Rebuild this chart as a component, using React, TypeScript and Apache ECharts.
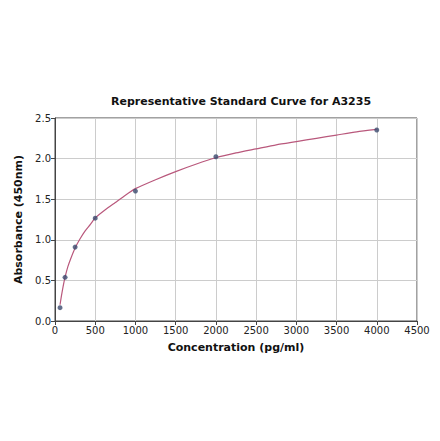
import React, { useEffect, useRef } from 'react';
import * as echarts from 'echarts';

// standard points
const concentrations = [62.5, 125, 250, 500, 1000, 2000, 4000];
const absorbances = [0.164, 0.538, 0.91, 1.266, 1.6, 2.023, 2.352];

// fitted curve
const curveX = [62.5, 80, 100, 125, 160, 200, 250, 310, 375, 440, 500, 625, 750, 875, 1000, 1250, 1500, 1750, 2000, 2250, 2500, 2750, 3000, 3250, 3500, 3750, 4000];
const curveY = [0.2, 0.31, 0.42, 0.54, 0.67, 0.78, 0.9, 1.01, 1.11, 1.19, 1.27, 1.37, 1.46, 1.55, 1.63, 1.74, 1.84, 1.93, 2.01, 2.07, 2.12, 2.17, 2.21, 2.25, 2.29, 2.33, 2.36];

const xTicks = [0, 4500, 500];
const yTicks = [0, 2.5, 0.5];

const font = 'DejaVu Sans';

const App: React.FC = () => {
    const chartRef = useRef<HTMLDivElement>(null);

    useEffect(() => {
        if (!chartRef.current) return;
        const chart = echarts.init(chartRef.current, undefined, { renderer: 'svg' });

        chart.setOption({
            animation: false,
            backgroundColor: '#fff',
            title: {
                text: 'Representative Standard Curve for A3235',
                left: 236,
                textAlign: 'center',
                top: 91,
                textStyle: { fontFamily: font, fontSize: 11, fontWeight: 'bold', color: '#111' },
            },
            grid: {
                left: 55,
                right: 23,
                top: 118,
                bottom: 120,
                show: true,
                borderColor: '#444',
                borderWidth: 1,
            },
            xAxis: {
                type: 'value',
                min: xTicks[0],
                max: xTicks[1],
                interval: xTicks[2],
                name: 'Concentration (pg/ml)',
                nameLocation: 'middle',
                nameGap: 21,
                nameTextStyle: { fontFamily: font, fontSize: 11, fontWeight: 'bold', color: '#111' },
                axisLine: { lineStyle: { color: '#444' } },
                axisTick: { length: 4, lineStyle: { color: '#444' } },
                axisLabel: {
                    fontFamily: font,
                    fontSize: 10,
                    color: '#222',
                    margin: 4,
                    formatter: (v: number) => String(v),
                },
                splitLine: { lineStyle: { color: '#ccc' } },
            },
            yAxis: {
                type: 'value',
                min: yTicks[0],
                max: yTicks[1],
                interval: yTicks[2],
                name: 'Absorbance (450nm)',
                nameLocation: 'middle',
                nameGap: 31,
                nameTextStyle: { fontFamily: font, fontSize: 11, fontWeight: 'bold', color: '#111' },
                axisLine: { show: true, lineStyle: { color: '#444' } },
                axisTick: { show: true, length: 4, lineStyle: { color: '#444' } },
                axisLabel: {
                    fontFamily: font,
                    fontSize: 10,
                    color: '#222',
                    margin: 4,
                    formatter: (v: number) => v.toFixed(1),
                },
                splitLine: { lineStyle: { color: '#ccc' } },
            },
            series: [
                {
                    type: 'line',
                    data: curveX.map((x, i) => [x, curveY[i]]),
                    smooth: 0.2,
                    showSymbol: false,
                    lineStyle: { color: '#b9587c', width: 1.2 },
                    z: 2,
                },
                {
                    type: 'scatter',
                    data: concentrations.map((x, i) => [x, absorbances[i]]),
                    symbol: 'circle',
                    symbolSize: 5,
                    itemStyle: { color: '#3b4a6e' },
                    z: 3,
                },
            ],
        });

        return () => chart.dispose();
    }, []);

    return (
        <div
            ref={chartRef}
            style={{ position: 'fixed', left: 0, top: 0, width: 440, height: 441 }}
        />
    );
};

export default App;
